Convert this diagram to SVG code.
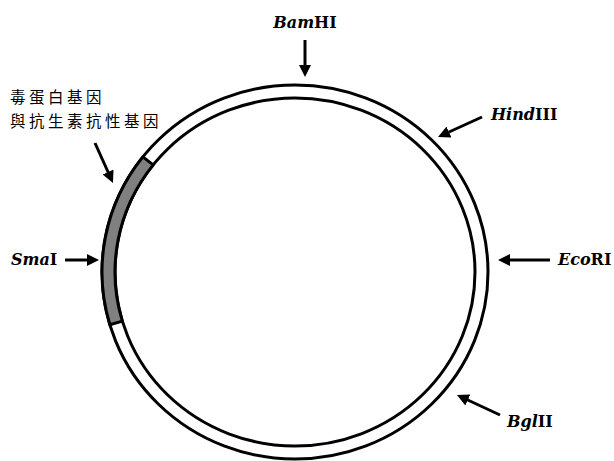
<svg xmlns="http://www.w3.org/2000/svg" width="614" height="461" viewBox="0 0 614 461">
  <style>
    .ring { fill: none; stroke: #000; stroke-width: 3; }
    .seg { fill: #808080; stroke: #000; stroke-width: 3; stroke-linejoin: round; }
    .arrow { stroke: #000; stroke-width: 3; fill: none; marker-end: url(#head); }
    .enz { font-family: "DejaVu Serif", "Liberation Serif", serif; font-size: 16px; font-weight: bold; fill: #000; }
    .enz .it { font-style: italic; }
    .zh { font-family: "Noto Sans CJK TC", "Noto Sans CJK SC", sans-serif; font-size: 15.5px; letter-spacing: 3.5px; fill: #000; }
  </style>
  <defs>
    <marker id="head" markerUnits="strokeWidth" markerWidth="4" markerHeight="4" refX="2" refY="2" orient="auto">
      <path d="M0,0 L4,2 L0,4 z" fill="#000"/>
    </marker>
  </defs>
  <rect width="614" height="461" fill="#fff"/>

  <!-- plasmid ring -->
  <g id="plasmid">
    <ellipse class="ring" cx="295" cy="272" rx="193" ry="187"/>
    <ellipse class="ring" cx="295" cy="272" rx="180" ry="174"/>
  </g>

  <!-- inserted gene segment -->
  <g id="gene-insert">
    <path class="seg" d="M109.9,324.8 A193 187 0 0 1 142.9,156.9 L153.2,164.9 A180 174 0 0 0 122.3,321.1 Z"/>
  </g>

  <!-- site labels -->
  <g id="bamhi">
    <text class="enz" x="305" y="28" text-anchor="middle"><tspan class="it">Bam</tspan>HI</text>
  </g>
  <g id="hindiii">
    <text class="enz" x="491" y="120"><tspan class="it">Hind</tspan>III</text>
  </g>
  <g id="ecori">
    <text class="enz" x="558" y="265"><tspan class="it">Eco</tspan>RI</text>
  </g>
  <g id="smai">
    <text class="enz" x="11" y="265"><tspan class="it">Sma</tspan>I</text>
  </g>
  <g id="bglii">
    <text class="enz" x="507" y="427"><tspan class="it">Bgl</tspan>II</text>
  </g>
  <g id="gene-label">
    <text class="zh" x="10" y="103">毒蛋白基因</text>
    <text class="zh" x="10" y="127">與抗生素抗性基因</text>
  </g>

  <!-- pointer arrows -->
  <g id="connectors">
    <line class="arrow" x1="305" y1="40" x2="305" y2="71"/>
    <line class="arrow" x1="482" y1="117" x2="443.5" y2="134.5"/>
    <line class="arrow" x1="550" y1="260" x2="504" y2="260"/>
    <line class="arrow" x1="65" y1="260" x2="93" y2="260"/>
    <line class="arrow" x1="500" y1="415" x2="462.4" y2="397.5"/>
    <line class="arrow" x1="95" y1="143" x2="110.5" y2="177.5"/>
  </g>
</svg>
